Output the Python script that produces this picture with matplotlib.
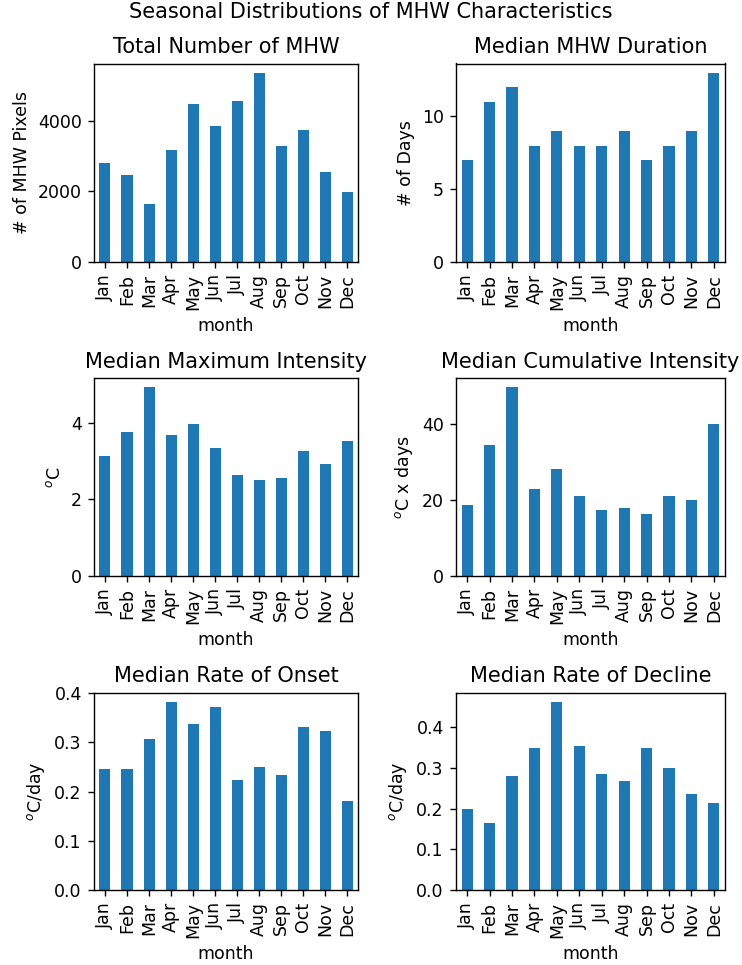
import numpy as np
import matplotlib
matplotlib.use('Agg')
import matplotlib.pyplot as plt

months = ['Jan', 'Feb', 'Mar', 'Apr', 'May', 'Jun', 'Jul', 'Aug', 'Sep', 'Oct', 'Nov', 'Dec']

# values
total_count = [2790, 2476, 1648, 3162, 4476, 3848, 4562, 5362, 3276, 3733, 2562, 1990]
duration = [7, 11, 12, 8, 9, 8, 8, 9, 7, 8, 9, 13]
max_intensity = [3.135, 3.764, 4.917, 3.686, 3.974, 3.345, 2.638, 2.507, 2.559, 3.266, 2.926, 3.528]
cum_intensity = [18.76, 34.7, 49.8, 23.0, 28.3, 21.15, 17.4, 17.96, 16.4, 21.15, 20.1, 40.0]
rate_onset = [0.246, 0.246, 0.307, 0.382, 0.338, 0.372, 0.224, 0.250, 0.234, 0.332, 0.323, 0.181]
rate_decline = [0.199, 0.165, 0.280, 0.349, 0.462, 0.354, 0.285, 0.268, 0.349, 0.300, 0.236, 0.214]

panels = [
    (total_count, 'Total Number of MHW', '# of MHW Pixels'),
    (duration, 'Median MHW Duration', '# of Days'),
    (max_intensity, 'Median Maximum Intensity', '$^o$C'),
    (cum_intensity, 'Median Cumulative Intensity', '$^o$C x days'),
    (rate_onset, 'Median Rate of Onset', '$^o$C/day'),
    (rate_decline, 'Median Rate of Decline', '$^o$C/day'),
]

W, H = 742, 965
DPI = 125
fig = plt.figure(figsize=(W / DPI, H / DPI), dpi=DPI)

# axes boxes in pixels: left, right, top, bottom
lefts = [(94, 358), (456, 725)]
rows = [(63.5, 261.7), (378, 575.7), (692.7, 890)]

for i, (vals, title, ylab) in enumerate(panels):
    r, c = divmod(i, 2)
    x0, x1 = lefts[c]
    t, b = rows[r]
    ax = fig.add_axes([x0 / W, 1 - b / H, (x1 - x0) / W, (b - t) / H])
    x = np.arange(len(months))
    ax.bar(x, vals, width=0.5, color='#1f77b4')
    ax.set_xlim(-0.5, len(months) - 0.5)
    ax.set_xticks(x)
    ax.set_xticklabels(months, rotation=90)
    ax.set_xlabel('month')
    ax.set_ylabel(ylab)
    ax.set_title(title)

fig.suptitle('Seasonal Distributions of MHW Characteristics', y=1 - 12 / H, va='center')

fig.savefig('out.png', dpi=DPI)
